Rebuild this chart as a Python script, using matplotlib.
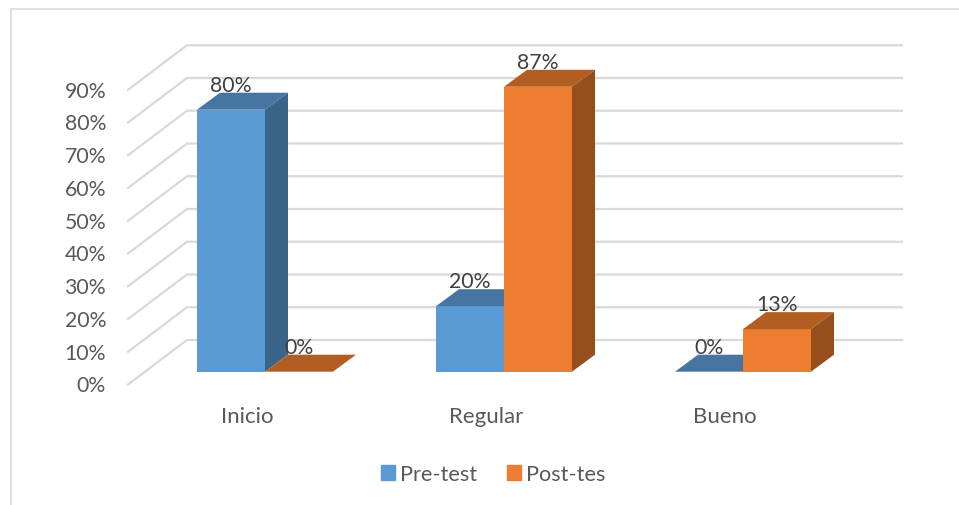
from matplotlib import pyplot as plt
from matplotlib.patches import Polygon, Patch
import numpy as np

categories = ['Inicio', 'Regular', 'Bueno']
pre_test = [80, 20, 0]
post_test = [0, 87, 13]
pct_ticks = np.arange(0, 91, 10)
series_names = ['Pre-test', 'Post-tes']

# px per unit of the picture, the whole figure is one axes
px_x = 239
px_y = 3.275
W, H = 959, 506
x0_px, y0_px = 265, 372.7

bar_w = 68 / px_x
depth_x = 23 / px_x
depth_y = 17 / px_y
front_colors = ['#5B9BD5', '#ED7D31']
top_colors = ['#4675A1', '#B25E22']
side_colors = ['#3A6488', '#964F1C']
grid_color = '#D9D9D9'

plt.rcParams['font.family'] = ['Lato', 'DejaVu Sans']
fig = plt.figure(figsize=(W / 100, H / 100), dpi=100)
ax = fig.add_axes([0, 0, 1, 1])
ax.set_xlim(-x0_px / px_x, (W - x0_px) / px_x)
ax.set_ylim((y0_px - H) / px_y, y0_px / px_y)
ax.axis('off')


def px(x, y):
    return (x - x0_px) / px_x, (y0_px - y) / px_y


# outer frame
fx, fy = zip(px(11, 506), px(11, 10), px(959, 10))
ax.plot(fx, fy, color='#DDDDDD', lw=1.3, zorder=1)

# floor/wall gridlines
wall_left = px(187, 341)[0]
wall_right = px(902, 341)[0]
front_left = px(128, 385.5)[0]
wall_off = px(187, 341)[1]
front_off = px(128, 385.5)[1]
for t in pct_ticks:
    ax.plot([front_left, wall_left, wall_right],
            [t + front_off, t + wall_off, t + wall_off],
            color=grid_color, lw=1.6, zorder=1, solid_joinstyle='miter')
    ax.text(px(106, 0)[0], t + front_off - 0.3, '%d%%' % t, ha='right', va='center',
            fontsize=15.3, color='#595959')


def draw_bar(left, val, s):
    right = left + bar_w
    ax.bar(left, val, bar_w, align='edge', color=front_colors[s], zorder=3)
    ax.add_patch(Polygon([(left, val), (right, val),
                          (right + depth_x, val + depth_y),
                          (left + depth_x, val + depth_y)],
                         color=top_colors[s], lw=0, zorder=3))
    ax.add_patch(Polygon([(right, 0), (right + depth_x, depth_y),
                          (right + depth_x, val + depth_y), (right, val)],
                         color=side_colors[s], lw=0, zorder=3))
    ax.annotate('%d%%' % val, (left + bar_w / 2, val), xytext=(0, 18),
                textcoords='offset points', ha='center', va='center',
                fontsize=15.3, color='#404040', zorder=5)


for i, name in enumerate(categories):
    draw_bar(i - bar_w, pre_test[i], 0)
    draw_bar(i, post_test[i], 1)
    ax.text(i - 18 / px_x, px(0, 417)[1], name, ha='center', va='center',
            fontsize=16, color='#595959')

handles = [Patch(color=front_colors[0], label=series_names[0]),
           Patch(color=front_colors[1], label=series_names[1])]
ax.legend(handles=handles, ncol=2, frameon=False, fontsize=15.6,
          labelcolor='#595959', loc='center',
          bbox_to_anchor=(493 / W, 1 - 475 / H), handlelength=0.65,
          handleheight=0.75, handletextpad=0.25, columnspacing=1.35)

fig.savefig('out.png', dpi=100)
